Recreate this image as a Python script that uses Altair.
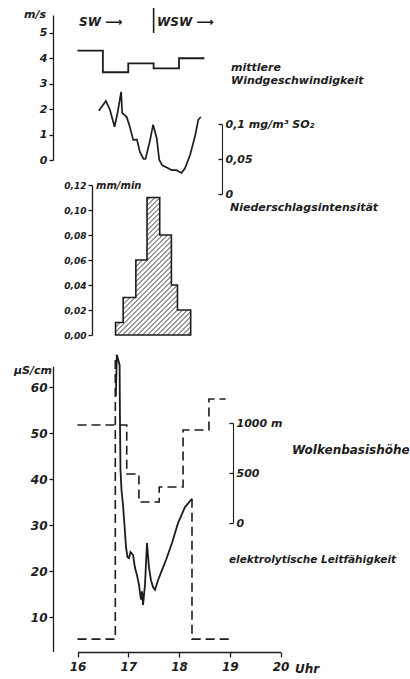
import math

import altair as alt
import pandas as pd

# ---------------------------------------------------------------- data
hour_ticks = [16, 17, 18, 19, 20]

# mean wind speed (m/s), half-hour steps; last value closes the final step
wind_t = [16.0, 16.5, 17.0, 17.5, 18.0, 18.5]
wind_v = [4.3, 3.45, 3.8, 3.6, 4.0, 4.0]
wind_dir_change = 17.5  # SW -> WSW

# SO2 concentration (mg/m3)
so2_t = [16.42, 16.56, 16.64, 16.73, 16.79, 16.86, 16.88, 16.97, 17.03, 17.10,
         17.17, 17.23, 17.30, 17.34, 17.43, 17.49, 17.56, 17.61, 17.67, 17.76,
         17.86, 17.95, 18.05, 18.12, 18.22, 18.32, 18.38, 18.43]
so2_v = [0.119, 0.133, 0.120, 0.096, 0.116, 0.146, 0.116, 0.110, 0.096, 0.077,
         0.078, 0.060, 0.050, 0.050, 0.077, 0.099, 0.080, 0.049, 0.041, 0.038,
         0.034, 0.034, 0.030, 0.037, 0.056, 0.084, 0.106, 0.110]

# precipitation intensity (mm/min); class edges and values, last value closes the step
rain_t = [16.75, 16.90, 17.15, 17.37, 17.62, 17.85, 17.97, 18.23]
rain_v = [0.01, 0.03, 0.06, 0.11, 0.08, 0.04, 0.02, 0.02]

# electrolytic conductivity of the rain water (uS/cm)
cond_t = [16.755, 16.775, 16.83, 16.837, 16.847, 16.867, 16.897, 16.926, 16.956,
          16.985, 17.015, 17.044, 17.094, 17.133, 17.172, 17.212, 17.232, 17.251,
          17.271, 17.291, 17.33, 17.369, 17.409, 17.448, 17.488, 17.527, 17.586,
          17.665, 17.744, 17.862, 17.98, 18.118, 18.256]
cond_v = [58.0, 67.0, 64.8, 52.8, 42.0, 37.6, 34.3, 30.0, 25.2, 23.0, 22.8, 24.1,
          23.5, 20.7, 19.1, 17.0, 15.2, 13.8, 15.6, 12.6, 17.0, 26.1, 20.7, 18.0,
          16.5, 15.9, 18.0, 20.2, 22.4, 26.1, 30.4, 33.9, 35.7]

# dashed base level before and after the rain event
base_seg = ["vor", "vor", "vor", "nach", "nach", "nach"]
base_t = [16.0, 16.745, 16.745, 18.256, 18.256, 19.02]
base_v = [5.2, 5.2, 67.0, 35.7, 5.2, 5.2]

# cloud base height (m), stepwise; last value closes the final step
cloud_t = [16.0, 16.97, 17.21, 17.61, 18.08, 18.59, 18.92]
cloud_h = [980, 490, 210, 360, 930, 1240, 1240]

# tick values of the individual scales
wind_ticks = [0, 1, 2, 3, 4, 5]
so2_ticks = [0, 0.05, 0.1]
rain_ticks = [0, 0.02, 0.04, 0.06, 0.08, 0.10, 0.12]
cond_ticks = [10, 20, 30, 40, 50, 60]
cloud_ticks = [0, 500, 1000]

# ---------------------------------------------------------------- layout
W, H = 410, 679
FONT = "DejaVu Sans"
INK = "#1c1c1c"

X_PX = [77.5, 280.5]
WIND_DOM, WIND_PX = [0, 5.7], [160, 15]
SO2_DOM, SO2_PX = [0, 0.1], [194, 124]
RAIN_DOM, RAIN_PX = [0, 0.12], [335, 185]
COND_DOM, COND_PX = [2.5, 64.5], [651.5, 366.3]
CLOUD_DOM, CLOUD_PX = [0, 1000], [523, 423]


def scale(domain, rng):
    return alt.Scale(domain=domain, range=rng, nice=False, zero=False)


def axis(**kw):
    base = dict(title=None, grid=False, domainColor=INK, domainWidth=1.3,
                tickColor=INK, tickWidth=1.3, tickSize=4, labelColor=INK,
                labelFont=FONT, labelFontStyle="italic", labelFontWeight="bold",
                labelOverlap=False, labelFlush=False, labelPadding=2)
    base.update(kw)
    return alt.Axis(**base)


# the time axis is shared by every layer, so all layers carry the same axis spec
X = alt.X("t:Q", scale=scale([16, 20], X_PX),
          axis=axis(orient="bottom", offset=-(H - 652), values=hour_ticks,
                    format="d", tickSize=5, labelPadding=4, labelFontSize=12))

# ---------------------------------------------------------------- top panel
wind = alt.Chart(pd.DataFrame({"t": wind_t, "v": wind_v})).mark_line(
    interpolate="step-after", color=INK, strokeWidth=1.8
).encode(
    x=X,
    y=alt.Y("v:Q", scale=scale(WIND_DOM, WIND_PX),
            axis=axis(orient="left", offset=-53, values=wind_ticks, format="d",
                      labelFontSize=11)),
)

divider = alt.Chart(pd.DataFrame({"t": [wind_dir_change]})).mark_rule(
    color=INK, strokeWidth=1.6
).encode(x=X, y=alt.value(8), y2=alt.value(33))

so2 = alt.Chart(pd.DataFrame({"t": so2_t, "v": so2_v})).mark_line(
    color=INK, strokeWidth=1.7
).encode(
    x=X,
    y=alt.Y("v:Q", scale=scale(SO2_DOM, SO2_PX),
            axis=axis(orient="left", offset=-222, values=so2_ticks, labelAlign="left",
                      labelPadding=-7, labelFontSize=11, domainWidth=1.1,
                      labelExpr="datum.value >= 0.1 ? '0,1 mg/m³  SO₂' : "
                                "(datum.value > 0 ? '0,05' : '0')")),
)

# ---------------------------------------------------------------- precipitation
px_per_h = (X_PX[1] - X_PX[0]) / 4.0
px_per_mm = (RAIN_PX[0] - RAIN_PX[1]) / (RAIN_DOM[1] - RAIN_DOM[0])
HATCH = 5.0
hatch_rows = []
for a, b, v in zip(rain_t[:-1], rain_t[1:], rain_v[:-1]):
    ua, ub, vh = (a - 16) * px_per_h, (b - 16) * px_per_h, v * px_per_mm
    for k in range(math.floor((ua - vh) / HATCH), math.ceil(ub / HATCH) + 1):
        c = k * HATCH
        lo, hi = max(ua, c), min(ub, c + vh)
        if hi - lo > 0.4:
            hatch_rows.append({"t": 16 + lo / px_per_h, "t2": 16 + hi / px_per_h,
                               "p": (lo - c) / px_per_mm, "p2": (hi - c) / px_per_mm})

hatch = alt.Chart(pd.DataFrame(hatch_rows)).mark_rule(color=INK, strokeWidth=0.9).encode(
    x=X, x2="t2:Q", y=alt.Y("p:Q", scale=scale(RAIN_DOM, RAIN_PX), axis=None), y2="p2:Q"
)
rain_outline = alt.Chart(pd.DataFrame({"t": rain_t, "p": rain_v})).mark_area(
    interpolate="step-after", fillOpacity=0, stroke=INK, strokeWidth=1.6
).encode(
    x=X,
    y=alt.Y("p:Q", scale=scale(RAIN_DOM, RAIN_PX),
            axis=axis(orient="left", offset=-92, values=rain_ticks, labelFontSize=9,
                      labelExpr="replace(format(datum.value, '.2f'), '.', ',')")),
    y2=alt.datum(0),
)

# ---------------------------------------------------------------- bottom panel
cond_line = alt.Chart(pd.DataFrame({"t": cond_t, "v": cond_v})).mark_line(
    color=INK, strokeWidth=1.8
).encode(
    x=X,
    y=alt.Y("v:Q", scale=scale(COND_DOM, COND_PX),
            axis=axis(orient="left", offset=-53, values=cond_ticks, format="d",
                      labelFontSize=12)),
)
base_line = alt.Chart(pd.DataFrame({"t": base_t, "v": base_v, "seg": base_seg,
                                    "i": list(range(len(base_t)))})).mark_line(
    color=INK, strokeWidth=1.6, strokeDash=[9, 5]
).encode(x=X, y=alt.Y("v:Q", scale=scale(COND_DOM, COND_PX), axis=None),
         detail="seg:N", order="i:Q")

cloud = alt.Chart(pd.DataFrame({"t": cloud_t, "h": cloud_h})).mark_line(
    interpolate="step-after", color=INK, strokeWidth=1.6, strokeDash=[9, 5]
).encode(
    x=X,
    y=alt.Y("h:Q", scale=scale(CLOUD_DOM, CLOUD_PX),
            axis=axis(orient="left", offset=-233, values=cloud_ticks, labelAlign="left",
                      labelPadding=-7, labelFontSize=11, domainWidth=1.1,
                      labelExpr="datum.value >= 1000 ? '1000 m' : datum.label")),
)


# ---------------------------------------------------------------- lettering
def text(s, x, y, size=11, align="left"):
    return alt.Chart(pd.DataFrame({"s": [s]})).mark_text(
        font=FONT, fontSize=size, fontStyle="italic", fontWeight="bold",
        color=INK, align=align, baseline="alphabetic"
    ).encode(x=alt.value(x), y=alt.value(y), text="s:N")


labels = [
    text("m/s", 46, 18, 11, "right"),
    text("SW ⟶", 79, 26, 12),
    text("WSW ⟶", 157, 26, 12),
    text("mittlere", 231, 71),
    text("Windgeschwindigkeit", 231, 84),
    text("Niederschlagsintensität", 230, 211),
    text("mm/min", 96, 189, 10),
    text("µS/cm", 52, 374, 11, "right"),
    text("Wolkenbasishöhe", 292, 454, 12),
    text("elektrolytische Leitfähigkeit", 229, 563, 10.5),
    text("Uhr", 295, 673, 12),
]

chart = alt.layer(
    wind, so2, hatch, rain_outline, base_line, cond_line, cloud, divider, *labels
).resolve_scale(y="independent").properties(
    width=W, height=H, autosize=alt.AutoSizeParams(type="none"), padding=0,
    background="white",
).configure_view(stroke=None)

chart.save("out.html", embed_options={"renderer": "svg", "actions": False})
